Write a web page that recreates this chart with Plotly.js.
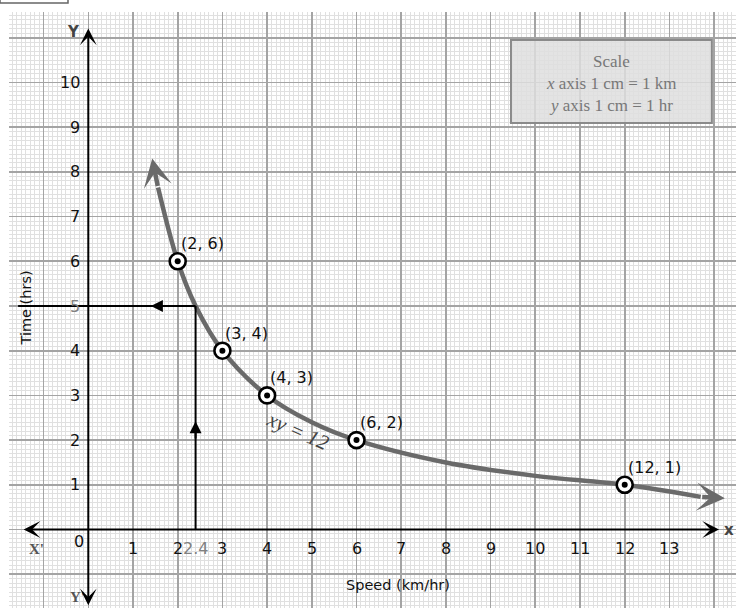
<!DOCTYPE html>
<html>
<head>
<meta charset="utf-8">
<script src="https://cdn.plot.ly/plotly-3.0.1.min.js"></script>
<style>html,body{margin:0;padding:0;background:#fff;}#chart{width:736px;height:608px;}</style>
</head>
<body>
<div id="chart"></div>
<script>
// ---- data ----
const pointX = [2, 3, 4, 6, 12];
const pointY = [6, 4, 3, 2, 1];
const curveX = [1.56, 2, 2.4, 3, 4, 5, 6, 8, 10, 12, 13.7];
const curveY = [7.65, 6, 5, 4, 3, 2.4, 2, 1.5, 1.2, 1, 0.73];
const curveTipStart = [1.43, 8.3];
const curveTipEnd = [14.24, 0.7];
const xTickVals = [1, 2, 3, 4, 5, 6, 7, 8, 9, 10, 11, 12, 13];
const yTickVals = [1, 2, 3, 4, 6, 7, 8, 9, 10];
const readX = 2.4;
const readY = 5;
const curveLabel = 'xy = 12';
const xTitle = 'Speed (km/hr)';
const yTitle = 'Time (hrs)';
const scaleLines = ['Scale', '<i>x</i> axis 1 cm = 1 km', '<i>y</i> axis 1 cm = 1 hr'];

// ---- styling ----
const SANS = 'DejaVu Sans, Verdana, sans-serif';
const SERIF = 'Liberation Serif, Times New Roman, serif';
const CURVE = '#6a6a6a';

const traces = [
  {x: curveX, y: curveY, mode: 'lines', line: {color: CURVE, width: 4.5, shape: 'spline', smoothing: 1}, hoverinfo: 'skip'},
  {x: pointX, y: pointY, mode: 'markers', marker: {symbol: 'circle', size: 16, color: 'white', line: {color: 'black', width: 2.6}}},
  {x: pointX, y: pointY, mode: 'markers', marker: {symbol: 'circle', size: 6, color: 'black'}}
];

const ann = [];
// tick labels
xTickVals.forEach(v => ann.push({x: v, y: 0, text: String(v), showarrow: false, xanchor: 'center', yanchor: 'middle', yshift: -18.5, font: {family: SANS, size: 16, color: '#111'}}));
yTickVals.forEach(v => ann.push({x: 0, y: v, text: String(v), showarrow: false, xanchor: 'right', yanchor: 'middle', xshift: -6, font: {family: SANS, size: 16, color: '#111'}}));
ann.push({x: 0, y: readY, text: String(readY), showarrow: false, xanchor: 'right', yanchor: 'middle', xshift: -6, font: {family: SANS, size: 16, color: '#808080'}});
ann.push({x: readX, y: 0, text: String(readX), showarrow: false, xanchor: 'center', yanchor: 'middle', yshift: -18.5, font: {family: SANS, size: 16, color: '#808080'}});
ann.push({x: 0, y: 0, text: '0', showarrow: false, xanchor: 'center', yanchor: 'middle', xshift: -9, yshift: -12, font: {family: SANS, size: 16, color: '#111'}});
// point labels
pointX.forEach((v, i) => ann.push({x: v, y: pointY[i], text: '(' + v + ', ' + pointY[i] + ')', showarrow: false, xanchor: 'left', yanchor: 'bottom', xshift: 1, yshift: 6, font: {family: SANS, size: 16, color: '#111'}}));
// axis letters
ann.push({x: -1.15, y: 0, text: "<b>X'</b>", showarrow: false, yshift: -19, font: {family: SERIF, size: 15, color: '#555'}});
ann.push({x: -0.24, y: 0, text: "<b>Y'</b>", showarrow: false, yshift: -67, font: {family: SERIF, size: 15, color: '#555'}});
ann.push({x: -0.32, y: 11, text: '<b>Y</b>', showarrow: false, yshift: 6, font: {family: SANS, size: 15, color: '#444'}});
ann.push({x: 14.24, y: 0, text: '<b>x</b>', showarrow: false, xanchor: 'left', xshift: -3, font: {family: SANS, size: 15, color: '#444'}});
// axis titles
ann.push({x: 6.92, y: -1.24, text: xTitle, showarrow: false, font: {family: SANS, size: 14.5, color: '#111'}});
ann.push({x: -1.4, y: 4.96, text: yTitle, showarrow: false, textangle: -90, font: {family: SANS, size: 14.5, color: '#111'}});
// curve label
ann.push({x: 4.69, y: 2.2, text: curveLabel, showarrow: false, textangle: 24, font: {family: SERIF, size: 21, color: '#444', style: 'italic'}});
// scale box text
ann.push({x: 11.7, y: 10.48, text: scaleLines[0], showarrow: false, font: {family: SERIF, size: 17, color: '#777'}});
ann.push({x: 11.7, y: 9.98, text: scaleLines[1], showarrow: false, font: {family: SERIF, size: 17, color: '#777'}});
ann.push({x: 11.7, y: 9.48, text: scaleLines[2], showarrow: false, font: {family: SERIF, size: 17, color: '#777'}});
// axis arrows
ann.push({x: 14.11, y: 0, ax: -1.48, ay: 0, axref: 'x', ayref: 'y', text: '', showarrow: true, arrowside: 'end+start', arrowhead: 3, startarrowhead: 3, arrowsize: 1.4, startarrowsize: 1.4, arrowwidth: 2, arrowcolor: 'black'});
ann.push({x: 0, y: 11.21, ax: 0, ay: -1.73, axref: 'x', ayref: 'y', text: '', showarrow: true, arrowside: 'end+start', arrowhead: 3, startarrowhead: 3, arrowsize: 1.4, startarrowsize: 1.4, arrowwidth: 2, arrowcolor: 'black'});
// curve arrows
ann.push({x: curveTipStart[0], y: curveTipStart[1], ax: curveX[0], ay: curveY[0], axref: 'x', ayref: 'y', text: '', showarrow: true, arrowhead: 3, arrowsize: 1.05, arrowwidth: 4.5, arrowcolor: CURVE});
ann.push({x: curveTipEnd[0], y: curveTipEnd[1], ax: curveX[curveX.length - 1], ay: curveY[curveY.length - 1], axref: 'x', ayref: 'y', text: '', showarrow: true, arrowhead: 3, arrowsize: 1.05, arrowwidth: 4.5, arrowcolor: CURVE});
// read-off arrows
ann.push({x: readX, y: 2.42, ax: readX, ay: 2.0, axref: 'x', ayref: 'y', text: '', showarrow: true, arrowhead: 2, arrowsize: 1.2, arrowwidth: 2, arrowcolor: 'black'});
ann.push({x: 1.4, y: readY, ax: 1.8, ay: readY, axref: 'x', ayref: 'y', text: '', showarrow: true, arrowhead: 2, arrowsize: 1.2, arrowwidth: 2, arrowcolor: 'black'});

const shapes = [
  {type: 'line', x0: readX, y0: 0, x1: readX, y1: readY, line: {color: 'black', width: 2}},
  {type: 'line', x0: readX, y0: readY, x1: -1.57, y1: readY, line: {color: 'black', width: 2}},
  {type: 'rect', x0: 9.456, x1: 13.95, y0: 9.094, y1: 10.95, fillcolor: 'rgba(222,222,222,0.85)', line: {color: '#8a8a8a', width: 2}, layer: 'above'},
  {type: 'rect', xref: 'paper', yref: 'paper', x0: -9 / 727, x1: 59 / 727, y0: 1 + 9 / 596, y1: 1 + 14 / 596, line: {color: '#666', width: 1.5}, fillcolor: 'rgba(0,0,0,0)'}
];

const axisCommon = {
  showgrid: true, gridcolor: '#a4a4a4', gridwidth: 1.6, dtick: 1, tick0: 0,
  minor: {dtick: 0.1, tick0: 0, showgrid: true, gridcolor: '#e0e0e0', gridwidth: 1},
  showticklabels: false, ticks: '', zeroline: false, showline: false, fixedrange: true
};

const layout = {
  width: 736, height: 608,
  margin: {l: 9, r: 0, t: 12, b: 0, pad: 0},
  paper_bgcolor: 'white', plot_bgcolor: 'white',
  showlegend: false,
  xaxis: Object.assign({range: [-1.774, 14.49]}, axisCommon),
  yaxis: Object.assign({range: [-1.756, 11.577]}, axisCommon),
  annotations: ann,
  shapes: shapes
};

Plotly.newPlot('chart', traces, layout, {staticPlot: true, displayModeBar: false});
</script>
</body>
</html>
